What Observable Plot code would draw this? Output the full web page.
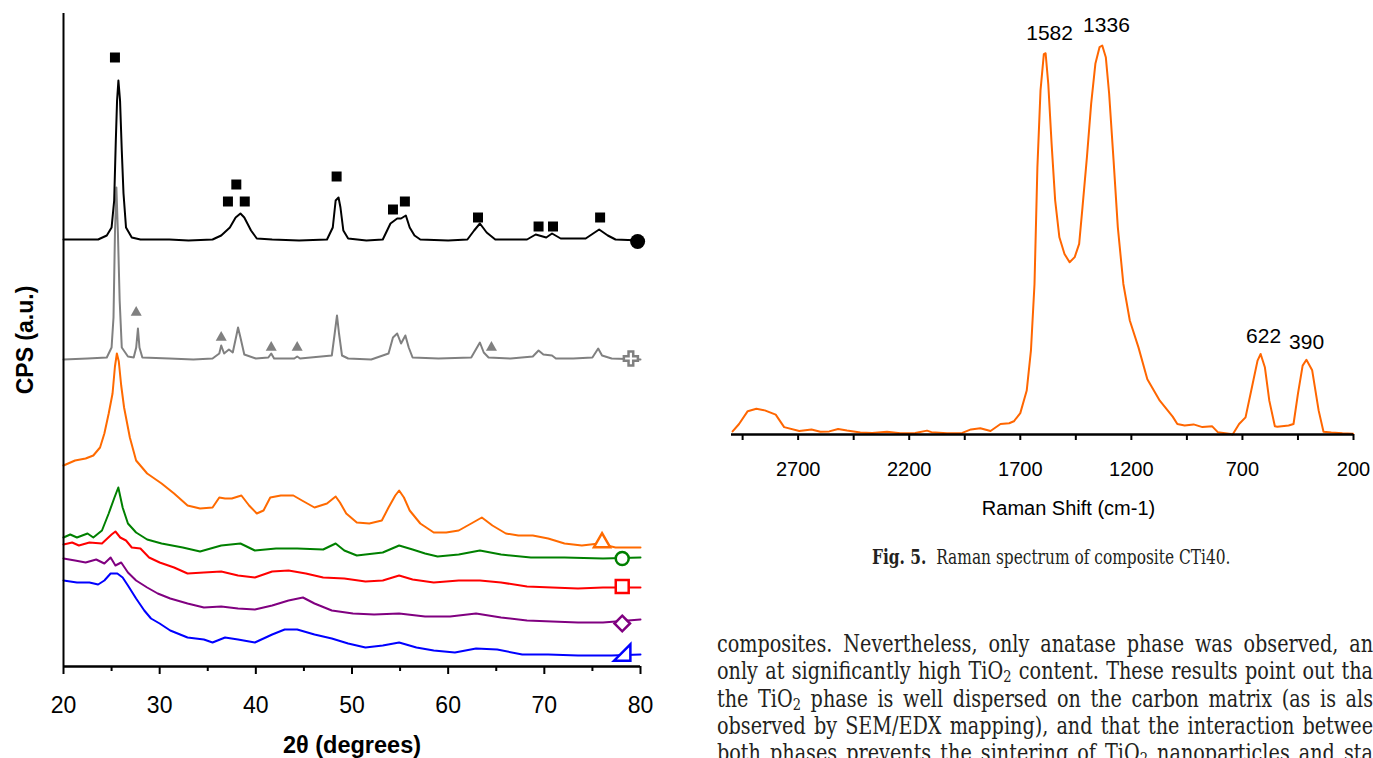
<!DOCTYPE html>
<html><head><meta charset="utf-8">
<script src="https://cdn.jsdelivr.net/npm/d3@7"></script>
<script src="https://cdn.jsdelivr.net/npm/@observablehq/plot@0.6"></script>
<style>
html,body{margin:0;padding:0;background:#fff;}
body{width:1373px;height:758px;overflow:hidden;position:relative;}
#xrd{position:absolute;left:0;top:0;}
#raman{position:absolute;left:700px;top:0;}
.caption{position:absolute;left:872px;top:546px;font-family:"DejaVu Serif",serif;font-size:19.5px;line-height:24px;color:#231f20;white-space:nowrap;transform:scaleX(0.79);transform-origin:0 0;}
.bl{position:absolute;left:717px;font-family:"DejaVu Serif",serif;font-size:24px;line-height:27.3px;height:27.3px;color:#231f20;width:820px;white-space:nowrap;text-align:justify;text-align-last:justify;transform:scaleX(0.8);transform-origin:0 0;}
sub{font-size:0.68em;vertical-align:-0.2em;line-height:0;}
</style></head>
<body>
<div id="xrd"></div>
<div id="raman"></div>
<div class="caption"><b>Fig. 5.</b>&nbsp; Raman spectrum of composite CTi40.</div>
<div class="bl" style="top:631px">composites. Nevertheless, only anatase phase was observed, an</div>
<div class="bl" style="top:658.3px">only at significantly high TiO<sub>2</sub> content. These results point out tha</div>
<div class="bl" style="top:685.6px">the TiO<sub>2</sub> phase is well dispersed on the carbon matrix (as is als</div>
<div class="bl" style="top:712.9px">observed by SEM/EDX mapping), and that the interaction betwee</div>
<div class="bl" style="top:740.2px">both phases prevents the sintering of TiO<sub>2</sub> nanoparticles and sta</div>
<script>
// ---------- XRD data: [2θ (degrees), CPS (a.u.)] ----------
const xrdMajorTicks = [20, 30, 40, 50, 60, 70, 80];
const xrdMinorTicks = [25, 35, 45, 55, 65, 75];

const xrdBlack = [[20,427],[22.3,427],[23.6,427],[24.5,431],[25.0,439],[25.27,466],[25.44,526],[25.57,566],[25.71,586],[25.88,566],[26.06,516],[26.24,473],[26.5,439],[27.1,429],[28.0,427],[31.0,427],[33.0,426],[35.5,427],[36.4,431],[37.3,439],[37.9,449],[38.4,453],[38.8,449],[39.5,436],[40.1,428],[41.7,427],[44.5,426],[47.4,427],[48.0,439],[48.3,466],[48.6,469],[48.8,459],[49.1,436],[49.6,428],[51.5,426],[53.2,427],[53.5,433],[54.0,443],[54.7,448],[55.1,448],[55.6,451],[56.0,439],[56.5,431],[57.1,427],[60.0,426],[62.0,427],[62.7,436],[63.3,443],[64.0,434],[64.9,427],[68.2,427],[69.1,432],[70.2,429],[70.8,433],[71.7,428],[74.3,428],[75.7,437],[76.6,431],[77.4,427],[80,426]];
const xrdGray = [[20,307],[22.5,308],[24.5,309],[25.0,319],[25.2,349],[25.35,433],[25.5,479],[25.66,433],[25.84,366],[26.06,319],[26.7,310],[27.3,309],[27.56,319],[27.74,338],[27.9,319],[28.2,309],[31.0,308],[33.5,307],[35.5,308],[36.2,313],[36.4,321],[36.7,313],[37.2,317],[37.6,314],[37.98,331],[38.15,339],[38.4,329],[38.8,312],[40.0,308],[41.3,309],[41.6,313],[41.9,308],[44.0,308],[44.3,310],[44.6,308],[47.9,311],[48.2,333],[48.44,351],[48.65,333],[48.96,311],[49.6,308],[52.0,307],[53.8,313],[54.26,329],[54.7,333],[55.1,323],[55.55,331],[55.9,319],[56.3,309],[59.0,308],[62.4,309],[63.0,319],[63.3,324],[63.7,314],[64.2,309],[66.5,308],[68.8,310],[69.4,316],[69.9,312],[70.8,311],[71.2,308],[73.0,308],[75.0,309],[75.6,318],[76.0,311],[77.0,308],[80,307]];
const xrdOrange = [[20,201],[21.2,206],[22.3,208],[23.1,211],[23.8,219],[24.25,233],[24.7,253],[25.1,273],[25.35,300],[25.55,313],[25.75,305],[26.0,281],[26.3,259],[26.9,229],[27.55,206],[28.7,193],[30.2,183],[31.5,173],[32.9,161],[34.2,158],[35.5,159],[36.2,169],[36.8,168],[37.5,168],[38.5,171],[39.3,161],[40.1,153],[40.8,156],[41.5,169],[42.6,171],[43.9,171],[44.8,166],[46.1,159],[47.4,163],[48.3,170],[48.75,164],[49.4,153],[50.5,144],[51.8,143],[53.1,146],[53.8,159],[54.5,171],[54.9,176],[55.4,169],[56.0,156],[57.1,143],[58.5,134],[59.8,134],[61.1,136],[62.4,143],[63.5,149],[64.6,141],[66.0,133],[67.3,131],[68.8,131],[70.4,128],[72.1,123],[73.9,121],[75.7,123],[77.4,119],[80,119]];
const xrdGreen = [[20,129],[20.7,132],[21.4,129],[22.5,133],[23.1,129],[24.0,136],[24.7,153],[25.3,169],[25.7,179],[26.15,159],[26.7,143],[27.55,134],[28.7,127],[30.2,123],[32.4,119],[34.2,115],[36.4,121],[38.4,123],[39.9,116],[42.1,118],[44.3,118],[47.0,117],[48.3,123],[49.2,116],[50.5,111],[53.2,114],[54.9,121],[56.3,117],[57.6,113],[58.9,110],[61.1,112],[63.3,116],[65.5,112],[68.6,109],[72.1,109],[76.1,108],[80,109]];
const xrdRed = [[20,122],[20.9,124],[21.6,121],[22.7,124],[24.0,123],[25.0,132],[25.4,135],[25.9,129],[26.5,126],[27.1,119],[28.0,118],[28.9,109],[30.0,104],[31.5,99],[32.9,93],[34.6,94],[36.4,95],[38.15,91],[39.9,89],[41.7,95],[43.4,96],[45.2,93],[47.0,89],[49.2,88],[51.4,85],[53.2,86],[54.9,91],[56.3,87],[58.5,84],[61.1,86],[63.3,86],[65.5,84],[68.2,80],[70.8,79],[73.5,78],[76.1,79],[80,79]];
const xrdPurple = [[20,108],[21.2,106],[22.3,104],[23.4,107],[24.25,103],[24.9,109],[25.4,101],[26.0,104],[26.7,94],[27.55,86],[28.7,79],[29.8,73],[31.1,68],[32.9,63],[34.6,59],[36.4,60],[38.15,58],[39.9,57],[41.7,61],[43.4,66],[44.9,69],[46.1,63],[47.9,56],[50.1,53],[52.3,52],[54.9,53],[57.6,50],[60.2,50],[62.9,53],[65.5,49],[68.2,46],[70.8,45],[73.5,44],[76.1,44],[80,47]];
const xrdBlue = [[20,86],[21.4,84],[22.7,84],[23.6,82],[24.25,86],[24.9,93],[25.6,93],[26.15,89],[26.7,81],[27.55,68],[28.4,56],[29.1,48],[30.0,43],[31.1,36],[32.9,29],[34.6,27],[35.5,24],[36.8,29],[38.15,27],[39.9,24],[41.7,32],[43.0,37],[44.3,37],[46.1,32],[47.9,28],[49.6,23],[51.4,19],[53.2,21],[54.9,24],[56.7,19],[58.5,16],[60.7,14],[62.9,18],[65.1,17],[67.7,12],[70.4,12],[73.5,11],[77.0,11],[80,12]];

// phase markers [2θ, CPS]
const anataseMarks = [[25.35,609],[37.1,465],[37.97,482],[38.85,465],[48.4,490],[54.26,457],[55.5,465],[63.1,449],[69.4,440],[70.9,440],[75.8,449]];
const rutileMarks = [[27.56,354],[36.4,329],[41.6,319],[44.3,319],[64.5,319]];
// series end symbols [2θ, CPS]
const endBlack = [[79.7,425]];
const endGray = [[79.0,308]];
const endOrange = [[76.0,124]];
const endGreen = [[78.1,108]];
const endRed = [[78.1,80]];
const endPurple = [[78.1,43]];
const endBlue = [[78.1,14]];

// ---------- Raman data: [Raman shift (cm-1), intensity (a.u.)] ----------
const ramanTicks = [2950,2700,2450,2200,1950,1700,1450,1200,950,700,450,200];
const ramanTickLabels = [2700,2200,1700,1200,700,200];
const ramanSpectrum = [[2995,0.8],[2966,2.7],[2927,6.0],[2888,6.6],[2850,6.2],[2801,5.1],[2763,1.9],[2695,0.9],[2640,1.3],[2600,0.7],[2560,0.8],[2520,1.4],[2480,1.0],[2420,0.5],[2367,0.4],[2300,0.7],[2240,0.3],[2173,0.4],[2120,1.0],[2100,0.6],[2030,0.3],[1961,0.4],[1922,1.3],[1880,1.6],[1834,0.9],[1789,2.7],[1750,2.9],[1729,3.4],[1700,5.5],[1671,11.3],[1652,21.6],[1636,38.7],[1623,68.7],[1609,88.4],[1594,97.8],[1586,98.0],[1574,90.1],[1559,74.7],[1543,60.2],[1524,50.7],[1501,46.4],[1478,44.3],[1455,45.6],[1435,49.0],[1420,58.4],[1400,71.3],[1381,85.0],[1362,95.3],[1343,99.6],[1331,100],[1315,97],[1300,87.6],[1280,70.4],[1261,53.3],[1236,38.7],[1207,29.3],[1168,22.4],[1128,14.2],[1072,8.7],[1014,4.6],[993,2.7],[960,2.3],[920,2.6],[880,1.9],[836,2.1],[811,0.6],[753,0.1],[744,0],[715,2.7],[686,4.4],[657,12.2],[632,19.0],[618,20.7],[599,17.3],[579,8.7],[554,2.1],[543,2.0],[492,2.3],[470,2.7],[450,10.5],[429,17.7],[412,19.2],[386,16.5],[357,6.2],[335,0.7],[300,0.5],[250,0.3],[202,0.2]];
const ramanPeakLabels = ["1582","1336","622","390"];
const ramanLabelShift = [1568,1312,605,411];
const ramanLabelHeight = [103.1,105.1,25.2,23.7];

const font = "'Liberation Sans', Arial, Helvetica, sans-serif";
const X = d => d[0], Y = d => d[1];

const xrd = Plot.plot({
  width: 660, height: 758,
  marginLeft: 63, marginRight: 20, marginTop: 13, marginBottom: 92,
  style: {fontFamily: font, background: "transparent", overflow: "visible", color: "#000"},
  x: {domain: [20, 80], label: null},
  y: {domain: [0, 653], axis: null, label: null},
  marks: [
    Plot.line(xrdBlue, {x: X, y: Y, stroke: "#0000ff", strokeWidth: 2}),
    Plot.line(xrdPurple, {x: X, y: Y, stroke: "#800080", strokeWidth: 2}),
    Plot.line(xrdRed, {x: X, y: Y, stroke: "#ff0000", strokeWidth: 2}),
    Plot.line(xrdGreen, {x: X, y: Y, stroke: "#008000", strokeWidth: 2}),
    Plot.line(xrdOrange, {x: X, y: Y, stroke: "#ff6a00", strokeWidth: 2}),
    Plot.line(xrdGray, {x: X, y: Y, stroke: "#808080", strokeWidth: 2}),
    Plot.line(xrdBlack, {x: X, y: Y, stroke: "#000", strokeWidth: 2}),
    Plot.dot(anataseMarks, {x: X, y: Y, symbol: "square", r: 5.64, fill: "#000", stroke: null}),
    Plot.dot(rutileMarks, {x: X, y: Y, symbol: "triangle", r: 4.1, fill: "#808080", stroke: null}),
    Plot.dot(endBlack, {x: X, y: Y, symbol: "circle", r: 7.5, fill: "#000", stroke: null}),
    Plot.dot(endGray, {x: X, y: Y, symbol: "cross", r: 5.9, fill: "#fff", stroke: "#808080", strokeWidth: 2.5}),
    Plot.dot(endOrange, {x: X, y: Y, symbol: "triangle", r: 6.0, fill: "#fff", stroke: "#ff6a00", strokeWidth: 2.5}),
    Plot.dot(endGreen, {x: X, y: Y, symbol: "circle", r: 6.5, fill: "#fff", stroke: "#008000", strokeWidth: 2.5}),
    Plot.dot(endRed, {x: X, y: Y, symbol: "square", r: 7.3, fill: "#fff", stroke: "#ff0000", strokeWidth: 2.5}),
    Plot.dot(endPurple, {x: X, y: Y, symbol: d3.symbolDiamond2, r: 7.0, fill: "#fff", stroke: "#800080", strokeWidth: 2.5}),
    Plot.dot(endBlue, {x: X, y: Y, symbol: {draw(ctx, size) { const h = Math.sqrt(size) / 2; ctx.moveTo(h, -h); ctx.lineTo(h, h); ctx.lineTo(-h, h); ctx.closePath(); }}, r: 9.2, fill: "#fff", stroke: "#0000ff", strokeWidth: 2.5}),
    Plot.ruleX([20], {stroke: "#000", strokeWidth: 2}),
    Plot.ruleY([0], {stroke: "#000", strokeWidth: 2.5}),
    Plot.axisX({ticks: xrdMajorTicks, tickSize: 8, tickPadding: 22, strokeWidth: 2, fontSize: 23, tickFormat: d => String(d)}),
    Plot.axisX({ticks: xrdMinorTicks, tickSize: 5, strokeWidth: 2, tickFormat: () => ""}),
    Plot.text(["2θ (degrees)"], {text: d => d, frameAnchor: "bottom", lineAnchor: "middle", textAnchor: "middle", dy: 79, fontSize: 23.5, fontWeight: "bold"}),
    Plot.text(["CPS (a.u.)"], {text: d => d, frameAnchor: "left", textAnchor: "middle", lineAnchor: "middle", dx: -38, rotate: -90, fontSize: 23, fontWeight: "bold"})
  ]
});
document.getElementById("xrd").append(xrd);

const ramanLabels = ramanPeakLabels.map((t, i) => ({t, x: ramanLabelShift[i], y: ramanLabelHeight[i]}));
const raman = Plot.plot({
  width: 673, height: 530,
  marginLeft: 31, marginRight: 20, marginTop: 45, marginBottom: 96,
  style: {fontFamily: font, background: "transparent", overflow: "visible", color: "#000"},
  x: {domain: [3000, 200], label: null},
  y: {domain: [0, 100], axis: null, label: null},
  marks: [
    Plot.line(ramanSpectrum, {x: X, y: Y, stroke: "#ff6600", strokeWidth: 2}),
    Plot.ruleY([0], {stroke: "#000", strokeWidth: 2.5}),
    Plot.axisX({ticks: ramanTicks, tickSize: 6, tickPadding: 21, strokeWidth: 2, fontSize: 20, tickFormat: d => ramanTickLabels.includes(d) ? String(d) : ""}),
    Plot.text(ramanLabels, {x: "x", y: "y", text: "t", fontSize: 21}),
    Plot.text(["Raman Shift (cm-1)"], {text: d => d, frameAnchor: "bottom", lineAnchor: "middle", textAnchor: "middle", dx: 26, dy: 74, fontSize: 20})
  ]
});
document.getElementById("raman").append(raman);
</script>
</body></html>
